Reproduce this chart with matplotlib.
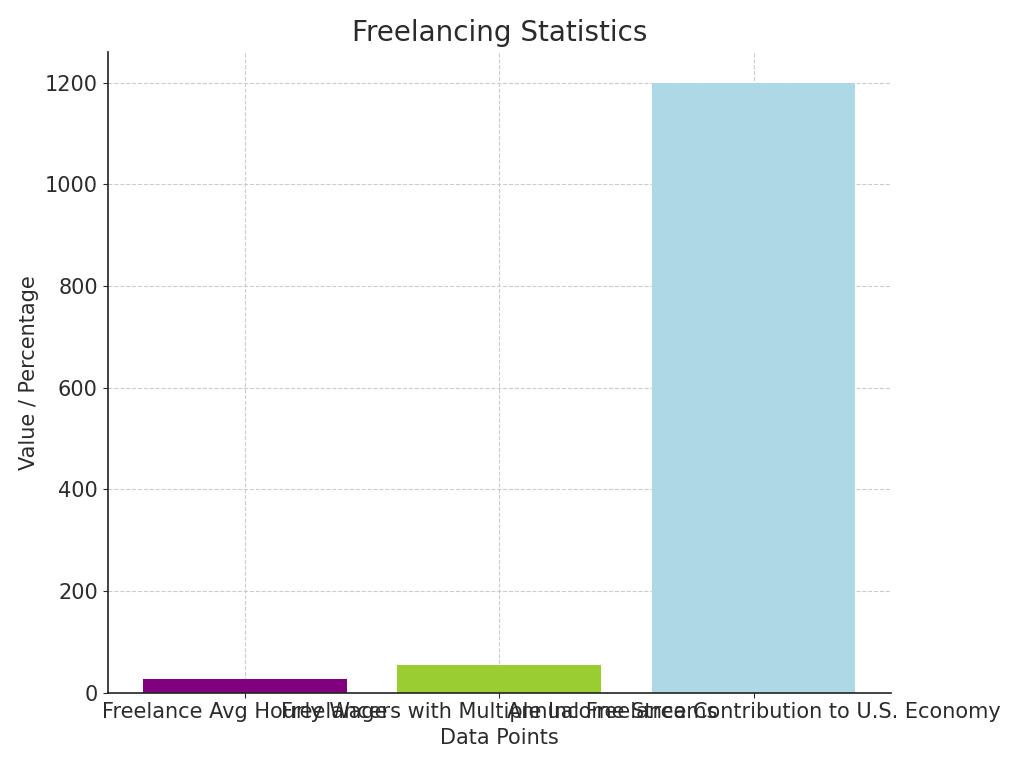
import matplotlib
matplotlib.use("Agg")
import matplotlib.pyplot as plt

categories = [
    "Freelance Avg Hourly Wage",
    "Freelancers with Multiple Income Streams",
    "Annual Freelance Contribution to U.S. Economy",
]
values = [28, 54, 1200]
colors = ["purple", "yellowgreen", "lightblue"]


def main():
    plt.rcParams["font.size"] = 15
    plt.rcParams["text.color"] = "#2b2b2b"
    plt.rcParams["axes.labelcolor"] = "#2b2b2b"
    plt.rcParams["xtick.color"] = "#2b2b2b"
    plt.rcParams["ytick.color"] = "#2b2b2b"

    fig, ax = plt.subplots(figsize=(10.24, 7.68), dpi=100)
    ax.bar(categories, values, color=colors)
    ax.set_title("Freelancing Statistics", fontsize=20, pad=8)
    ax.set_xlabel("Data Points", labelpad=4)
    ax.set_ylabel("Value / Percentage")
    ax.grid(True, linestyle="--", color="#cccccc", linewidth=0.8)
    ax.set_axisbelow(True)
    ax.spines["top"].set_visible(False)
    ax.spines["right"].set_visible(False)
    ax.spines["left"].set_color("#222222")
    ax.spines["bottom"].set_color("#222222")
    ax.spines["left"].set_linewidth(1.2)
    ax.spines["bottom"].set_linewidth(1.2)
    fig.subplots_adjust(left=0.105, right=0.87, top=0.932, bottom=0.098)
    fig.savefig("out.png")


if __name__ == "__main__":
    main()
